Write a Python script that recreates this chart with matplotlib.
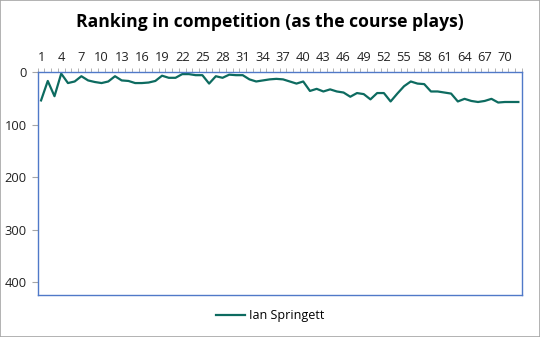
import matplotlib.pyplot as plt
import numpy as np
from matplotlib.patches import Rectangle

plt.rcParams['font.family'] = ['Open Sans', 'DejaVu Sans']

rounds = np.arange(1, 73)
ranking = [54, 17, 46, 3, 21, 18, 8, 16, 19, 21, 18, 8, 16, 17, 21, 21, 20, 17,
           7, 11, 11, 4, 4, 6, 6, 22, 8, 11, 5, 6, 6, 14, 18, 16, 14, 13, 14, 18,
           22, 18, 36, 32, 37, 33, 37, 39, 47, 40, 42, 52, 40, 40, 56, 41, 27, 18,
           22, 23, 37, 37, 39, 41, 56, 51, 55, 57, 55, 51, 58, 57, 57, 57]
player = "Ian Springett"
tick_rounds = np.arange(1, 73, 3)

fig = plt.figure(figsize=(5.4, 3.37), dpi=100)
fig.patches.append(Rectangle((0, 0), 1, 1, transform=fig.transFigure,
                             fill=False, edgecolor='#a6a6a6', linewidth=1.2))

ax = fig.add_axes([0.0698, 0.1246, 0.8963, 0.6617])
ax.plot(rounds, ranking, color='#0d6b60', linewidth=1.6, label=player)

ax.set_xlim(0.5, 72.5)
ax.set_ylim(424, 0)
ax.set_yticks([0, 100, 200, 300, 400])

# category axis along the top: labels every third round, marks between every round
ax.xaxis.tick_top()
ax.set_xticks(tick_rounds)
ax.set_xticks(np.arange(0.5, 73, 1), minor=True)
ax.tick_params(axis='x', which='major', length=0, pad=6, labelsize=9.3, colors='#222222')
ax.tick_params(axis='x', which='minor', length=3, color='#a6a6a6', direction='out')
ax.tick_params(axis='y', length=4, color='#a6a6a6', labelsize=9.3, pad=4, labelcolor='#222222')

for s in ax.spines.values():
    s.set_color('#5079c8')
    s.set_linewidth(1.0)

fig.text(0.5, 0.935, "Ranking in competition (as the course plays)",
         ha='center', va='center', fontsize=12.6, fontweight='bold', color='black')

fig.legend(loc='center', bbox_to_anchor=(0.5, 0.063), frameon=False,
           fontsize=9, handlelength=2.3, handletextpad=0.3)

fig.savefig('out.png', dpi=100)
